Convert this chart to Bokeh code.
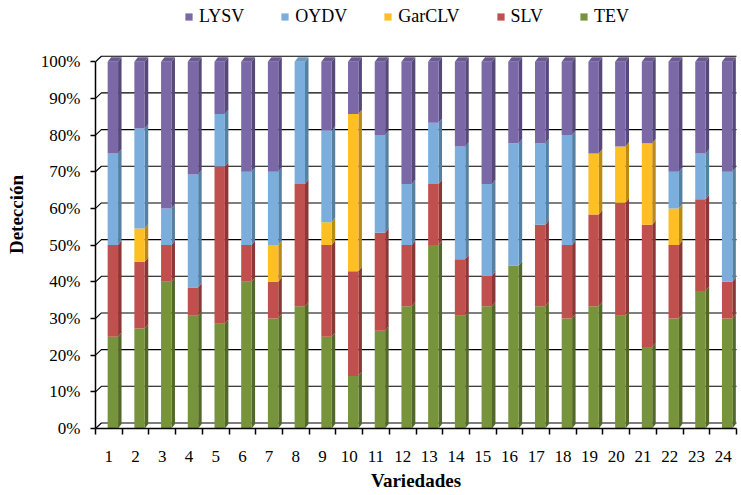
from bokeh.plotting import figure
from bokeh.models import (Range1d, FixedTicker, NumeralTickFormatter, Legend,
                          LegendItem, ColumnDataSource)
from bokeh.embed import file_html
from bokeh.resources import INLINE

# ---- data (percent of detections per variety) ----
varieties = list(range(1, 25))
TEV    = [25, 27.27, 40, 30.77, 28.57, 40, 30, 33.33, 25, 14.29, 26.67, 33.33,
          50, 30.77, 33.33, 44.44, 33.33, 30, 33.33, 30.77, 22.22, 30, 37.5, 30]
SLV    = [25, 18.18, 10, 7.69, 42.86, 10, 10, 33.33, 25, 28.57, 26.67, 16.67,
          16.67, 15.38, 8.33, 0, 22.22, 20, 25, 30.77, 33.33, 20, 25, 10]
GarCLV = [0, 9.09, 0, 0, 0, 0, 10, 0, 6.25, 42.86, 0, 0,
          0, 0, 0, 0, 0, 0, 16.67, 15.38, 22.22, 10, 0, 0]
OYDV   = [25, 27.27, 10, 30.77, 14.29, 20, 20, 33.34, 25, 0, 26.67, 16.67,
          16.67, 30.77, 25, 33.34, 22.22, 30, 0, 0, 0, 10, 12.5, 30]
LYSV   = [25, 18.19, 40, 30.77, 14.28, 30, 30, 0, 18.75, 14.28, 19.99, 33.33,
          16.66, 23.08, 33.34, 22.22, 22.23, 20, 25, 23.08, 22.23, 30, 25, 30]
series_names = ["TEV", "SLV", "GarCLV", "OYDV", "LYSV"]
legend_order = ["LYSV", "OYDV", "GarCLV", "SLV", "TEV"]
y_ticks = [0, 0.1, 0.2, 0.3, 0.4, 0.5, 0.6, 0.7, 0.8, 0.9, 1.0]

# ---- styling ----
front_cols = {"TEV": "#77933C", "SLV": "#C0504D", "GarCLV": "#FDBF22",
              "OYDV": "#7BAEDC", "LYSV": "#7B68A6"}
side_cols = {"TEV": "#52682A", "SLV": "#8A3735", "GarCLV": "#B98A14",
             "OYDV": "#56809F", "LYSV": "#56497A"}
top_cols = {"TEV": "#6A8434", "SLV": "#A94543", "GarCLV": "#E0A81C",
            "OYDV": "#6C9BC4", "LYSV": "#6B5A94"}
FONT = "Liberation Serif"

W, H = 741, 495
p = figure(width=W, height=H, output_backend="svg", toolbar_location=None,
           x_range=Range1d(0.5, 24.5), y_range=Range1d(0, 1.167),
           min_border_left=95, min_border_right=5, min_border_top=0,
           min_border_bottom=67)
p.outline_line_color = None
p.xgrid.visible = False
p.ygrid.visible = False

dxb, dyb = 0.13, 0.0123     # bar side depth
dxg, dyg = 0.22, 0.015      # back wall offset
off, bw = 0.15, 0.39

# back-wall gridlines with diagonal lead-in
gx, gy = [], []
for v in y_ticks:
    gx.append([0.5, 0.5 + dxg, 24.6])
    gy.append([v, v + dyg, v + dyg])
p.multi_line(gx, gy, line_color="black", line_width=1.1)

data = {"TEV": TEV, "SLV": SLV, "GarCLV": GarCLV, "OYDV": OYDV, "LYSV": LYSV}
bottoms = [0.0] * len(varieties)
renderers = {}
top_series = [None] * len(varieties)
for name in series_names:
    vals = [v / 100.0 for v in data[name]]
    tops = [b + v for b, v in zip(bottoms, vals)]
    xs_c = [x + off for x in varieties]
    sx, sy = [], []
    for xc, b, t, v in zip(xs_c, bottoms, tops, vals):
        if v <= 0:
            continue
        xr = xc + bw / 2
        sx.append([xr, xr + dxb, xr + dxb, xr])
        sy.append([b, b + dyb, t + dyb, t])
    p.patches(sx, sy, fill_color=side_cols[name], line_color=None)
    r = p.vbar(x=xs_c, width=bw, bottom=bottoms, top=tops,
               fill_color=front_cols[name], line_color=None)
    renderers[name] = r
    for i, v in enumerate(vals):
        if v > 0:
            top_series[i] = name
    bottoms = tops

# top caps
cx, cy, cc = [], [], []
for x, name in zip(varieties, top_series):
    xl = x + off - bw / 2
    xr = x + off + bw / 2
    cx.append([xl, xr, xr + dxb, xl + dxb])
    cy.append([1.0, 1.0, 1.0 + dyb, 1.0 + dyb])
    cc.append(top_cols[name])
p.patches(xs="xs", ys="ys", fill_color="c", line_color=None,
          source=ColumnDataSource(dict(xs=cx, ys=cy, c=cc)))

# axes
xa = p.xaxis[0]
xa.ticker = FixedTicker(ticks=varieties,
                        minor_ticks=[v - 0.5 for v in varieties] + [24.5])
xa.major_tick_out = 0
xa.major_tick_in = 0
xa.minor_tick_out = 6
xa.minor_tick_in = 0
xa.minor_tick_line_color = "black"
xa.minor_tick_line_width = 1.5
xa.axis_line_color = "black"
xa.axis_line_width = 1.5
xa.major_label_standoff = 16
xa.major_label_text_font = FONT
xa.major_label_text_font_size = "17px"
xa.major_label_text_color = "black"
xa.axis_label = "Variedades"
xa.axis_label_text_font = FONT
xa.axis_label_text_font_style = "bold"
xa.axis_label_text_font_size = "19px"
xa.axis_label_text_color = "black"
xa.axis_label_standoff = 5

ya = p.yaxis[0]
ya.ticker = FixedTicker(ticks=y_ticks, minor_ticks=[])
ya.formatter = NumeralTickFormatter(format="0%")
ya.bounds = (0, 1)
ya.major_tick_out = 5
ya.major_tick_in = 0
ya.major_tick_line_color = "black"
ya.major_tick_line_width = 1.5
ya.axis_line_color = "black"
ya.axis_line_width = 1.5
ya.major_label_standoff = 10
ya.major_label_text_font = FONT
ya.major_label_text_font_size = "17px"
ya.major_label_text_color = "black"
ya.axis_label = "Detección"
ya.axis_label_text_font = FONT
ya.axis_label_text_font_style = "bold"
ya.axis_label_text_font_size = "19px"
ya.axis_label_text_color = "black"
ya.axis_label_standoff = 11

# legend (inside the extended frame, above the plotting area)
items = [LegendItem(label=n, renderers=[renderers[n]]) for n in legend_order]
legend = Legend(items=items, orientation="horizontal", location=(89, 401),
                glyph_width=9, glyph_height=9, label_standoff=6, spacing=36,
                padding=0, margin=0, border_line_color=None,
                background_fill_alpha=0, label_text_font=FONT,
                label_text_font_size="18px", label_text_color="black",
                label_height=12)
p.add_layout(legend, "center")

open("out.html", "w").write(file_html(p, INLINE))
